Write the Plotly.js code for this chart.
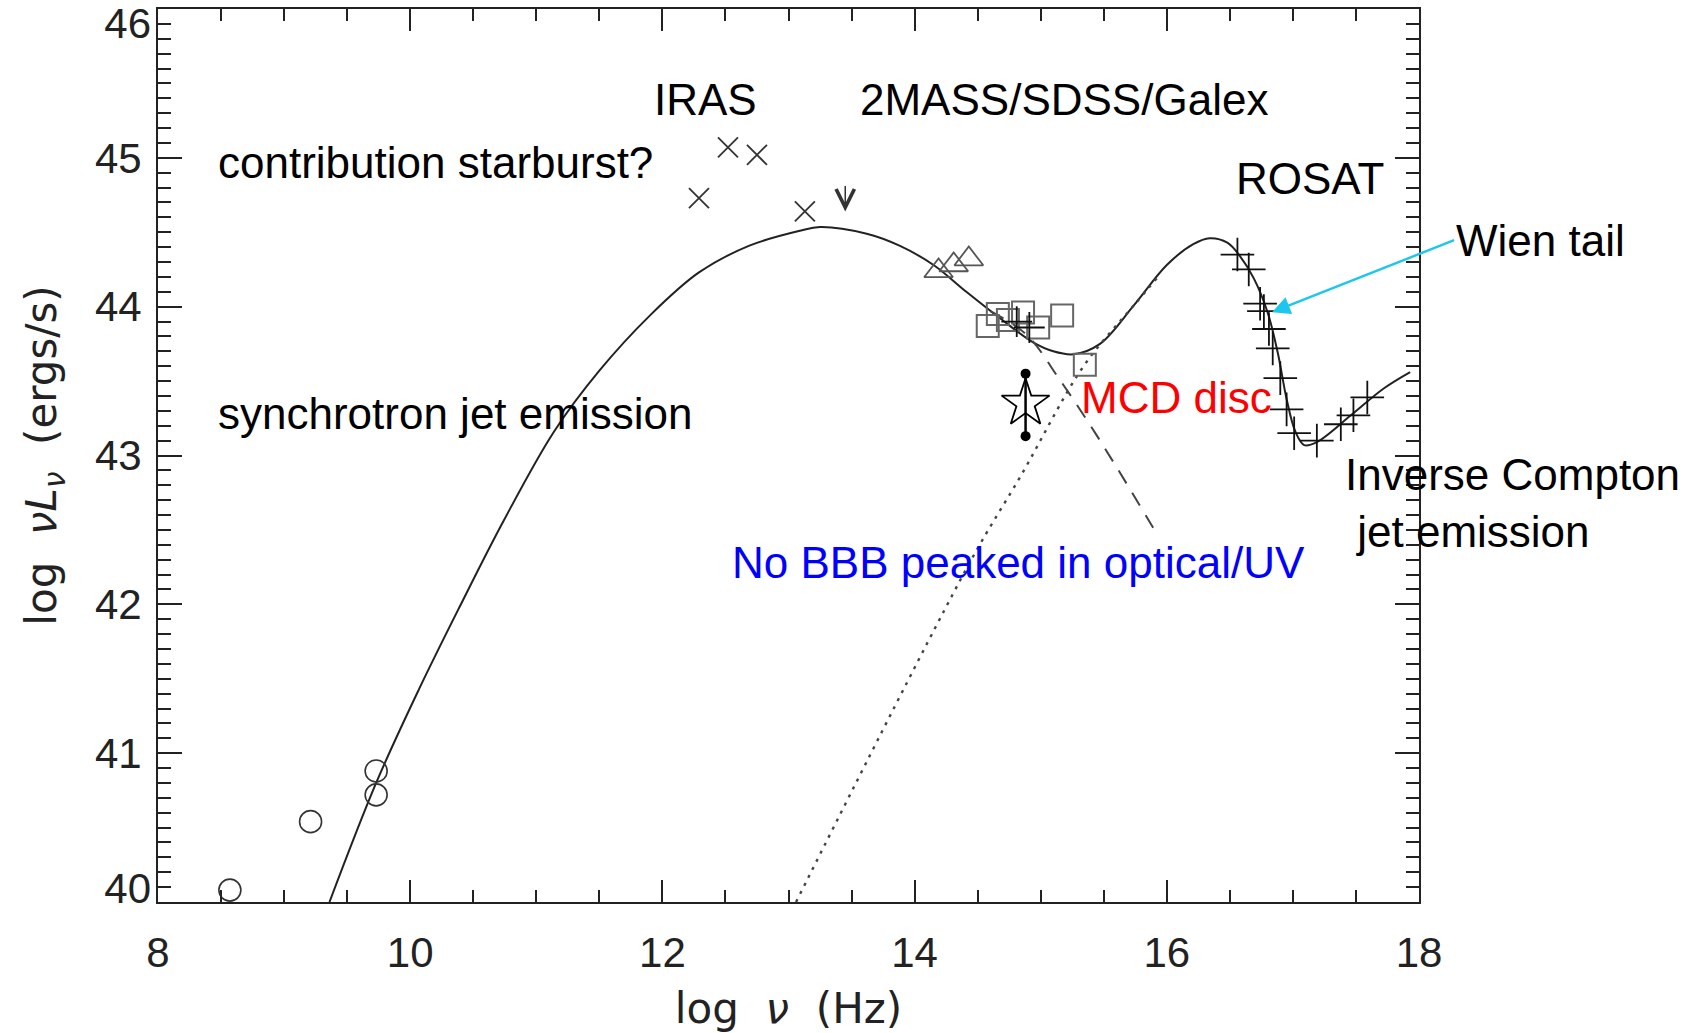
<!DOCTYPE html>
<html><head><meta charset="utf-8">
<script src="https://cdn.plot.ly/plotly-3.0.1.min.js"></script>
<style>html,body{margin:0;padding:0;background:#fff;} #chart{width:1700px;height:1033px;}</style>
</head><body><div id="chart"></div>
<script>
// ---- Observed SED points (log nu [Hz], log nuLnu [erg/s]) ----
const radioX = [8.57, 9.21, 9.73, 9.73];
const radioY = [40.08, 40.54, 40.88, 40.72];
const irasX = [12.29, 12.52, 12.75, 13.13];
const irasY = [44.73, 45.07, 45.02, 44.64];
const irasLimitX = [13.45];
const irasLimitY = [44.64];
const nirX = [14.19, 14.31, 14.43];
const nirY = [44.24, 44.28, 44.32];
const optX = [14.58, 14.66, 14.74, 14.86, 14.98, 15.17, 15.35];
const optY = [43.87, 43.95, 43.91, 43.96, 43.86, 43.94, 43.61];
const optPlusX = [14.81, 14.91];
const optPlusY = [43.90, 43.86];
const uvStarX = [14.88];
const uvStarY = [43.35];
const uvErrHi = [0.20];
const uvErrLo = [0.22];
const rosatX = [16.56, 16.65, 16.74, 16.77, 16.81, 16.84, 16.90, 16.95, 17.01, 17.19, 17.38, 17.48, 17.59];
const rosatY = [44.35, 44.25, 44.02, 43.97, 43.85, 43.72, 43.52, 43.31, 43.15, 43.10, 43.21, 43.27, 43.39];

// ---- Model curves ----
const totalX = [9.36, 9.73, 10.07, 10.39, 10.74, 11.14, 11.50, 11.90, 12.29, 12.69, 13.09, 13.25, 13.62, 13.88, 14.15, 14.41, 14.68, 14.94, 15.10, 15.26, 15.47, 15.74, 16.00, 16.21, 16.34, 16.48, 16.58, 16.69, 16.80, 16.88, 16.95, 17.02, 17.09, 17.19, 17.46, 17.72, 17.93];
const totalY = [40.00, 40.80, 41.43, 41.98, 42.56, 43.16, 43.57, 43.94, 44.23, 44.41, 44.51, 44.535, 44.49, 44.41, 44.28, 44.10, 43.92, 43.76, 43.70, 43.68, 43.75, 44.01, 44.28, 44.42, 44.46, 44.43, 44.34, 44.19, 43.96, 43.69, 43.38, 43.16, 43.07, 43.09, 43.27, 43.45, 43.56];
const synchX = [14.60, 14.89, 15.15, 15.38, 15.61, 15.93];
const synchY = [43.97, 43.81, 43.51, 43.22, 42.91, 42.46];
const discX = [13.06, 14.45, 14.84, 15.34, 15.74, 15.95];
const discY = [40.00, 42.30, 42.86, 43.60, 44.01, 44.22];

// ---- Axis ticks ----
const xTickVals = [8, 10, 12, 14, 16, 18];
const yTickVals = [40, 41, 42, 43, 44, 45, 46];

const LAB = 'Liberation Sans, Arial, sans-serif';
const TICKFONT = {family: LAB, size: 42, color: '#222'};
const yInner = yTickVals.filter(v => v > 40 && v < 46);
const yEnds = yTickVals.filter(v => v === 40 || v === 46);
// end labels are drawn nudged inside the frame, as in the original figure
const endInset = 14 * (46 - 40) / 893;
const yEndPos = yEnds.map(v => v === 46 ? v - endInset : v + endInset);

const traces = [
  {x: totalX, y: totalY, mode: 'lines', line: {color: '#222', width: 2, shape: 'spline', smoothing: 1.0}},
  {x: synchX, y: synchY, mode: 'lines', line: {color: '#444', width: 2, dash: '15px,11px', shape: 'spline'}},
  {x: discX, y: discY, mode: 'lines', line: {color: '#444', width: 2.4, dash: '3px,6px', shape: 'spline'}},
  {x: radioX, y: radioY, mode: 'markers', cliponaxis: false,
   marker: {symbol: 'circle-open', size: 22, color: '#333', line: {width: 1.6}}},
  {x: irasX, y: irasY, mode: 'markers',
   marker: {symbol: 'x-thin-open', size: 20, color: '#333', line: {width: 1.8, color: '#333'}}},
  {x: nirX, y: nirY, mode: 'markers',
   marker: {symbol: 'triangle-up-open', size: 25, color: '#555', line: {width: 1.8}}},
  {x: optX, y: optY, mode: 'markers',
   marker: {symbol: 'square-open', size: 22, color: '#666', line: {width: 2}}},
  {x: optPlusX, y: optPlusY, mode: 'markers',
   marker: {symbol: 'cross-thin-open', size: 22, color: '#111', line: {width: 1.8, color: '#111'}}},
  {x: [uvStarX[0], uvStarX[0]], y: [uvStarY[0] - uvErrLo[0], uvStarY[0] + uvErrHi[0]],
   mode: 'lines+markers', line: {color: '#000', width: 2.5},
   marker: {symbol: 'circle', size: 10, color: '#000'}},
  {x: uvStarX, y: uvStarY, mode: 'markers',
   marker: {symbol: 'star-open', size: 36, color: '#000', line: {width: 1.8}}},
  {x: rosatX, y: rosatY, mode: 'markers',
   marker: {symbol: 'cross-thin-open', size: 24, color: '#111', line: {width: 1.8, color: '#111'}}},
  {x: [], y: [], yaxis: 'y2', mode: 'markers'}
];

const txt = (text, x, y, xanchor, color, ref) => ({
  text: text, x: x, y: y, xref: ref ? 'paper' : 'x', yref: ref ? 'paper' : 'y',
  xanchor: xanchor, yanchor: 'middle',
  showarrow: false, align: 'left', font: {family: LAB, size: 44, color: color || '#000'}
});

const annotations = [
  txt('contribution starburst?', 8.456, 44.97, 'left'),
  txt('IRAS', 12.345, 45.394, 'center'),
  txt('2MASS/SDSS/Galex', 15.186, 45.394, 'center'),
  txt('ROSAT', 16.53, 44.86, 'left'),
  txt('synchrotron jet emission', 8.456, 43.284, 'left'),
  txt('MCD disc', 15.303, 43.393, 'left', '#ff0000'),
  txt('Inverse Compton<br>&nbsp;jet emission', 17.40, 42.68, 'left'),
  txt('No BBB peaked in optical/UV', 14.824, 42.283, 'center', '#0000ff'),
  // "Wien tail" label with its cyan pointer (arrow head on the ROSAT tail)
  {text: 'Wien tail', x: 16.835, y: 43.963, xref: 'x', yref: 'y',
   xanchor: 'left', yanchor: 'middle', align: 'left',
   font: {family: LAB, size: 44, color: '#000'},
   showarrow: true, ax: 182, ay: -72, arrowhead: 2, arrowsize: 1.5, arrowwidth: 2.4,
   arrowcolor: '#1cc6ee', standoff: 0},
  // IRAS upper limit
  {x: irasLimitX[0], y: irasLimitY[0], xref: 'x', yref: 'y', text: '', showarrow: true,
   ax: 0, ay: -27, arrowhead: 5, arrowsize: 2.4, arrowwidth: 1.5, arrowcolor: '#333', standoff: 0}
];

const axisCommon = {
  showline: true, linewidth: 2, linecolor: '#222', mirror: 'ticks',
  ticks: 'inside', tickwidth: 2, tickcolor: '#222',
  showgrid: false, zeroline: false,
  tickfont: TICKFONT
};

const layout = {
  width: 1700, height: 1033,
  margin: {l: 158, r: 281, t: 9, b: 131},
  paper_bgcolor: '#fff', plot_bgcolor: '#fff',
  showlegend: false,
  xaxis: Object.assign({}, axisCommon, {
    range: [8, 18], tickvals: xTickVals, ticktext: xTickVals.map(String),
    ticklen: 22, ticklabelstandoff: 13,
    minor: {dtick: 0.5, ticks: 'inside', ticklen: 12, tickwidth: 2, tickcolor: '#222'},
    title: {text: 'log&nbsp; <i>ν</i>&nbsp; (Hz)', standoff: 27,
            font: {family: 'DejaVu Sans, sans-serif', size: 42, color: '#222'}}
  }),
  yaxis: Object.assign({}, axisCommon, {
    range: [40, 46], tickvals: yInner, ticktext: yInner.map(String),
    ticklen: 24, ticklabelstandoff: 6,
    minor: {dtick: 0.1, ticks: 'inside', ticklen: 13, tickwidth: 2, tickcolor: '#222'},
    title: {text: 'log&nbsp; <i>ν</i><i>L</i><sub><i>ν</i></sub>&nbsp; (ergs/s)', standoff: 25,
            font: {family: 'DejaVu Sans, sans-serif', size: 42, color: '#222'}}
  }),
  yaxis2: {
    overlaying: 'y', side: 'left', range: [40, 46],
    tickvals: yEndPos, ticktext: yEnds.map(String),
    showline: false, ticks: '', showgrid: false, zeroline: false,
    ticklabelstandoff: 6, ticklabeloverflow: 'allow', tickfont: TICKFONT
  },
  annotations: annotations
};

Plotly.newPlot('chart', traces, layout, {staticPlot: true, displayModeBar: false});
</script></body></html>
